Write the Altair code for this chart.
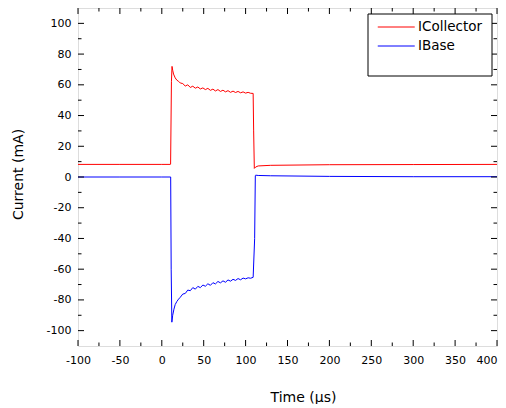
import altair as alt
import pandas as pd

# ---- data ----
t_collector = [-100, -50, 0, 10.0, 10.5, 11.5, 12.2, 13, 14, 16, 18, 20, 22, 25, 28, 31, 34, 37,
               40, 43, 46, 49, 52, 55, 58, 61, 64, 67, 70, 73, 76, 79, 82, 85, 88, 91,
               94, 97, 100, 103, 106, 109, 109.6, 110.4, 112, 115, 130, 200, 300, 400]
i_collector = [8.2, 8.2, 8.2, 8.2, 8.3, 62, 72, 69.5, 67, 64.5, 63, 62.3, 61.2, 60.8, 59.2, 60.0, 58.3, 59.1,
               57.8, 58.6, 57.3, 58.0, 56.9, 57.7, 56.4, 57.2, 56.0, 56.9, 55.7, 56.5, 55.4, 56.2, 55.1, 55.9, 55.0, 55.7,
               54.8, 55.4, 54.6, 55.1, 54.5, 54.4, 30, 5.6, 6.5, 7.2, 7.6, 8.0, 8.1, 8.2]

t_base = [-100, -50, 0, 10.6, 11.2, 12, 13, 14.5, 16, 18, 20, 22, 25, 28, 31, 34, 37,
          40, 43, 46, 49, 52, 55, 58, 61, 64, 67, 70, 73, 76, 79, 82, 85, 88, 91,
          94, 97, 100, 103, 106, 109, 110.8, 111.6, 112, 115, 130, 200, 300, 400]
i_base = [0, 0, 0, 0, -60, -94.5, -90, -86, -83, -81, -79.5, -78.3, -76.2, -75.8, -73.6, -74.0, -72.0,
          -73.0, -71.2, -72.0, -70.3, -71.1, -69.5, -70.5, -68.8, -69.6, -68.0, -68.9, -67.6, -68.5, -67.0, -67.8, -66.6, -67.3, -66.1,
          -66.9, -65.8, -66.3, -65.6, -65.9, -65.3, -40, 0.8, 1.2, 1.0, 0.8, 0.4, 0.2, 0.2]

series_names = ["ICollector", "IBase"]
series_colors = ["#ff0000", "#0000ff"]

x_major = [-100, -50, 0, 50, 100, 150, 200, 250, 300, 350, 400]
x_minor = [-75, -25, 25, 75, 125, 175, 225, 275, 325, 375]
y_major = [-100, -80, -60, -40, -20, 0, 20, 40, 60, 80, 100]
y_minor = [-90, -70, -50, -30, -10, 10, 30, 50, 70, 90]

X_DOMAIN = [-100, 400]
Y_DOMAIN = [-110, 110]

W, H = 419, 338
MAJ, MIN = 6, 3.5

df = pd.concat([
    pd.DataFrame({"time": t_collector, "current": i_collector, "series": series_names[0]}),
    pd.DataFrame({"time": t_base, "current": i_base, "series": series_names[1]}),
])

xs = alt.Scale(domain=X_DOMAIN, nice=False, zero=False)
ys = alt.Scale(domain=Y_DOMAIN, nice=False, zero=False)

FONT = "DejaVu Sans"
LABEL_EXPR = "'' + datum.value"

x_axis = alt.Axis(values=x_major, ticks=False, domain=False, grid=False,
                  labelPadding=8, labelFontSize=11, labelFont=FONT, labelColor="black",
                  labelExpr=LABEL_EXPR, labelFlush=False, labelOverlap=False,
                  labelAlign={"expr": f"datum.value == {X_DOMAIN[1]} ? 'right' : 'center'"},
                  title="Time (μs)", titleFont=FONT, titleFontSize=14, titleFontWeight="normal",
                  titleColor="black", titleX=225, titleY=44, titleBaseline="top")
y_axis = alt.Axis(values=y_major, ticks=False, domain=False, grid=False,
                  labelPadding=7, labelFontSize=11, labelFont=FONT, labelColor="black",
                  labelExpr=LABEL_EXPR, labelFlush=False, labelOverlap=False,
                  title="Current (mA)", titleFont=FONT, titleFontSize=14, titleFontWeight="normal",
                  titleColor="black", titleX=-53, titleY=166)

lines = alt.Chart(df).mark_line(strokeWidth=1, clip=True).encode(
    x=alt.X("time:Q", scale=xs, axis=x_axis),
    y=alt.Y("current:Q", scale=ys, axis=y_axis),
    color=alt.Color("series:N", scale=alt.Scale(domain=series_names, range=series_colors),
                    legend=alt.Legend(orient="none", legendX=299, legendY=9, title=None,
                                      symbolType="M-1,0H3", symbolSize=342, symbolStrokeWidth=1,
                                      labelFont=FONT, labelFontSize=13.5, labelColor="black",
                                      labelOffset=21, rowPadding=2, padding=0)),
    order=alt.Order("time:Q"),
)

box_df = pd.DataFrame({"k": [0]})
legend_box = alt.Chart(box_df).mark_rect(fill="white", stroke="black", strokeWidth=1).encode(
    x=alt.value(290), x2=alt.value(414), y=alt.value(6), y2=alt.value(68)
)

def xticks(vals, length):
    d = pd.DataFrame({"time": vals})
    bot = alt.Chart(d).mark_rule(color="black", strokeWidth=1).encode(
        x=alt.X("time:Q", scale=xs, axis=x_axis), y=alt.value(H), y2=alt.value(H - length))
    top = alt.Chart(d).mark_rule(color="black", strokeWidth=1).encode(
        x=alt.X("time:Q", scale=xs, axis=x_axis), y=alt.value(0), y2=alt.value(length))
    return [bot, top]

def yticks(vals, length):
    d = pd.DataFrame({"current": vals})
    left = alt.Chart(d).mark_rule(color="black", strokeWidth=1).encode(
        y=alt.Y("current:Q", scale=ys, axis=y_axis), x=alt.value(0), x2=alt.value(length))
    right = alt.Chart(d).mark_rule(color="black", strokeWidth=1).encode(
        y=alt.Y("current:Q", scale=ys, axis=y_axis), x=alt.value(W), x2=alt.value(W - length))
    return [left, right]

tick_layers = xticks(x_major, MAJ) + xticks(x_minor, MIN) + yticks(y_major, MAJ) + yticks(y_minor, MIN)

chart = alt.layer(lines, *tick_layers, legend_box).properties(
    width=W, height=H,
    autosize=alt.AutoSizeParams(type="none"),
    padding={"left": 70, "top": 0, "right": 1, "bottom": 58},
).configure_view(stroke="black", strokeWidth=1).configure(background="white")

chart.save("out.html", embed_options={"renderer": "svg", "actions": False})
